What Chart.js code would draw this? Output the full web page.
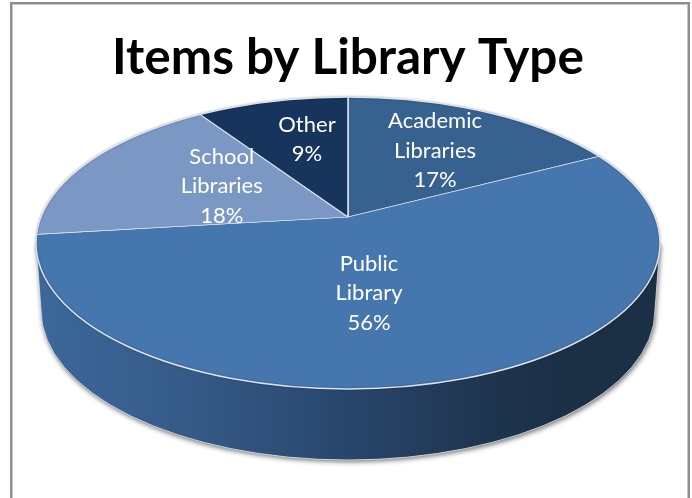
<!DOCTYPE html>
<html>
<head>
<meta charset="utf-8">
<style>
  html, body { margin: 0; padding: 0; background: #fff; }
  canvas { display: block; }
</style>
<script src="https://cdn.jsdelivr.net/npm/chart.js@4/dist/chart.umd.js"></script>
</head>
<body>
<canvas id="pie" width="692" height="498"></canvas>
<script>
const categories = ['Academic Libraries', 'Public Library', 'School Libraries', 'Other'];
const shares = [17, 56, 18, 9];
const sliceColors = ['#37618f', '#4676ae', '#7b98c5', '#17355c'];

// the tilt of the disc, and where the rim sits relative to the point the slices meet
const tilt = 0.44;
const rim = { rx: 312, ry: 146, dy: 26 };
const base = { rx: 307, ry: 150, dy: 93 };
const labelRadius = 165;
const labelNudge = [[3, -4], [-30, 7], [23, 0], [5, -8]];

function rimPath(ctx, p) {
    ctx.beginPath();
    ctx.ellipse(p.x, p.y + rim.dy, rim.rx, rim.ry, 0, 0, Math.PI * 2);
}

function wallGradient(ctx, p) {
    const g = ctx.createLinearGradient(p.x - rim.rx, 0, p.x + rim.rx, 0);
    g.addColorStop(0, '#3c689b');
    g.addColorStop(0.25, '#355a87');
    g.addColorStop(0.5, '#28466c');
    g.addColorStop(0.72, '#1f3550');
    g.addColorStop(0.85, '#1b2f45');
    g.addColorStop(1, '#1b2f45');
    return g;
}

const tiltedPie = {
    id: 'tiltedPie',
    beforeDraw(chart) {
        const ctx = chart.ctx;
        ctx.save();
        ctx.strokeStyle = '#c8c8c8';
        ctx.lineWidth = 1;
        ctx.strokeRect(12.5, 4.5, 675, 520);
        ctx.strokeStyle = '#8e8e8e';
        ctx.lineWidth = 2;
        ctx.strokeRect(11, 3, 678, 520);
        ctx.restore();
    },
    beforeDatasetsDraw(chart) {
        const ctx = chart.ctx;
        const p = chart.getDatasetMeta(0).data[0];

        // side wall
        ctx.save();
        ctx.beginPath();
        ctx.moveTo(p.x - rim.rx, p.y + rim.dy);
        ctx.lineTo(p.x - base.rx, p.y + base.dy);
        ctx.ellipse(p.x, p.y + base.dy, base.rx, base.ry, 0, Math.PI, 0, true);
        ctx.lineTo(p.x + rim.rx, p.y + rim.dy);
        ctx.closePath();
        ctx.shadowColor = 'rgba(0,0,0,0.55)';
        ctx.shadowBlur = 5;
        ctx.shadowOffsetX = 1;
        ctx.shadowOffsetY = 2;
        ctx.fillStyle = wallGradient(ctx, p);
        ctx.fill();
        ctx.shadowColor = 'transparent';
        ctx.strokeStyle = 'rgba(225,230,238,0.8)';
        ctx.lineWidth = 1;
        ctx.stroke();
        ctx.restore();

        // top of the disc: slices are cut to the rim, then flattened
        ctx.save();
        rimPath(ctx, p);
        ctx.clip();
        ctx.translate(0, p.y);
        ctx.scale(1, tilt);
        ctx.translate(0, -p.y);
    },
    afterDatasetsDraw(chart) {
        const ctx = chart.ctx;
        const arcs = chart.getDatasetMeta(0).data;
        const p = arcs[0];
        ctx.restore();

        ctx.save();
        rimPath(ctx, p);
        ctx.shadowColor = 'rgba(0,0,0,0.35)';
        ctx.shadowBlur = 2;
        ctx.strokeStyle = '#dde3ec';
        ctx.lineWidth = 1.5;
        ctx.stroke();
        ctx.restore();

        ctx.save();
        ctx.fillStyle = '#fff';
        ctx.font = '22px Lato';
        ctx.textAlign = 'center';
        ctx.textBaseline = 'middle';
        arcs.forEach((arc, i) => {
            const mid = (arc.startAngle + arc.endAngle) / 2;
            const lines = categories[i].split(' ').concat(shares[i] + '%');
            const cx = p.x + Math.cos(mid) * labelRadius + labelNudge[i][0];
            const cy = p.y + Math.sin(mid) * labelRadius * tilt + labelNudge[i][1];
            lines.forEach((line, n) => {
                ctx.fillText(line, cx, cy + (n - (lines.length - 1) / 2) * 29.5);
            });
        });
        ctx.restore();
    }
};

new Chart(document.getElementById('pie'), {
    type: 'pie',
    data: {
        labels: categories,
        datasets: [{
            data: shares,
            backgroundColor: sliceColors,
            borderColor: '#dfe5ee',
            borderWidth: 1.5,
            clip: false
        }]
    },
    options: {
        responsive: false,
        animation: false,
        radius: 430,
        layout: { padding: { left: 4, bottom: 151.4 } },
        plugins: {
            legend: { display: false },
            tooltip: { enabled: false },
            title: {
                display: true,
                text: 'Items by Library Type',
                color: '#000',
                font: { family: 'Lato', size: 49.5, weight: 'bold', lineHeight: 1.2 },
                padding: { top: 28, bottom: 0 }
            }
        }
    },
    plugins: [tiltedPie]
});
</script>
</body>
</html>
